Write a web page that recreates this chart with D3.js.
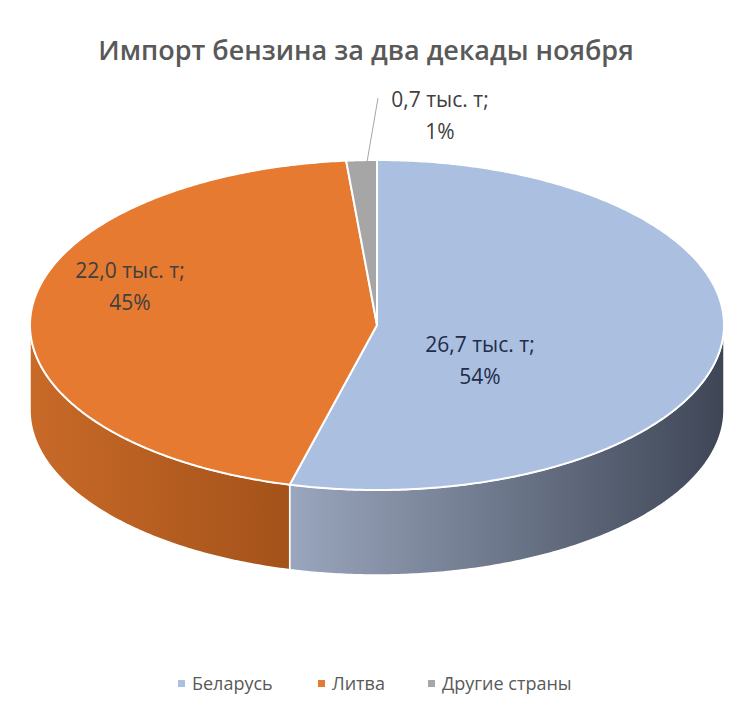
<!DOCTYPE html><html><head><meta charset="utf-8">
<script src="https://cdn.jsdelivr.net/npm/d3@7"></script>
<style>body{margin:0;background:#fff}</style></head><body>
<script>
const categories=["Беларусь","Литва","Другие страны"];
const values=[26.7,22.0,0.7];
const valueLabels=["26,7 тыс. т;","22,0 тыс. т;","0,7 тыс. т;"];
const pctLabels=["54%","45%","1%"];
const topColors=["#abbfe0","#e57a30","#a6a6a6"];
const W=756,H=714,cx=377,cy=325,rx=347,ry=165,depth=85;
const svg=d3.select("body").append("svg").attr("width",W).attr("height",H);
const defs=svg.append("defs");
const grads=[["#9aa6bd","#3e4656"],["#c86a28","#a4521a"],["#8a8a8a","#6a6a6a"]];
grads.forEach((g,i)=>{const lg=defs.append("linearGradient").attr("id","g"+i).attr("x1","0").attr("x2","1");
lg.append("stop").attr("offset","0").attr("stop-color",g[0]);lg.append("stop").attr("offset","1").attr("stop-color",g[1]);});
const pie=d3.pie().sort(null).value(d=>d)(values);
const P=(t,dy=0)=>[cx+rx*Math.sin(t),cy-ry*Math.cos(t)+dy];
function arcPts(a,b,dy){const n=Math.max(2,Math.ceil((b-a)/0.01));return d3.range(n+1).map(i=>P(a+(b-a)*i/n,dy));}
pie.forEach((s,i)=>{const a=Math.max(s.startAngle,Math.PI/2),b=Math.min(s.endAngle,3*Math.PI/2);
if(b<=a)return;const pts=arcPts(a,b,0).concat(arcPts(a,b,depth).reverse());
svg.append("path").attr("d",d3.line()(pts)+"Z").attr("fill",`url(#g${i})`).attr("stroke","#fff").attr("stroke-width",1.5);});
pie.forEach((s,i)=>{const pts=[[cx,cy]].concat(arcPts(s.startAngle,s.endAngle,0));
svg.append("path").attr("d",d3.line()(pts)+"Z").attr("fill",topColors[i]).attr("stroke","#fff").attr("stroke-width",2);});
svg.append("text").attr("x",366).attr("y",60).attr("text-anchor","middle").attr("font-family","Open Sans").attr("font-weight",600)
 .attr("font-size",27).attr("fill","#595959").text("Импорт бензина за два декады ноября");
const lab=[[480,352,"#1f2d4a"],[130,278,"#404040"],[440,107,"#404040"]];
lab.forEach((l,i)=>{const t=svg.append("text").attr("text-anchor","middle").attr("font-family","Open Sans").attr("font-size",21).attr("fill",l[2]);
t.append("tspan").attr("x",l[0]).attr("y",l[1]).text(valueLabels[i]);t.append("tspan").attr("x",l[0]).attr("y",l[1]+32).text(pctLabels[i]);});
svg.append("line").attr("x1",367).attr("y1",162).attr("x2",378).attr("y2",98).attr("stroke","#a6a6a6");
const lx=[178,318,428];
categories.forEach((c,i)=>{svg.append("rect").attr("x",lx[i]).attr("y",680).attr("width",7).attr("height",7).attr("fill",topColors[i]);
svg.append("text").attr("x",lx[i]+14).attr("y",690).attr("font-family","Open Sans").attr("font-size",18).attr("fill","#595959").text(c);});
</script></body></html>
